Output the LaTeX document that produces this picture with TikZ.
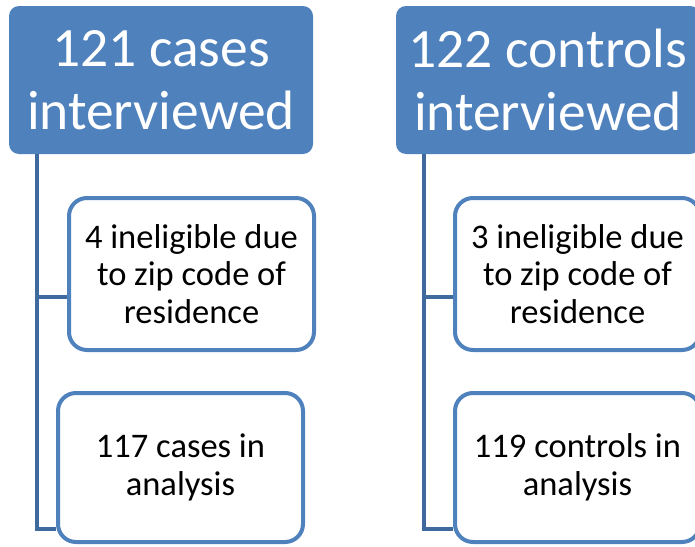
\documentclass[tikz,border=0pt]{standalone}
\usepackage{fontspec}
\setmainfont{Carlito}
\definecolor{headblue}{HTML}{4F81BD}
\definecolor{spineblue}{HTML}{3E6A9E}
\begin{document}
\begin{tikzpicture}[x=1pt,y=-1pt,
  head/.style={fill=headblue, rounded corners=10pt, minimum width=304pt, minimum height=148pt,
    inner sep=0pt, align=center, text=white, font=\fontsize{55.5}{63}\selectfont},
  item/.style={draw=headblue, line width=4pt, fill=white, rounded corners=18pt,
    minimum width=245pt, inner sep=0pt, align=center, font=\fontsize{34.5}{37.5}\selectfont},
  link/.style={draw=spineblue, line width=4.5pt}]
\useasboundingbox (0,0) rectangle (695,546);

% Cases column
\node[head] (casehead) at (161,80) {121 cases\\interviewed};
\node[item, minimum height=152pt] (caseinel) at (191.5,274) {4 ineligible due\\to zip code of\\residence};
\node[item, minimum height=149pt] (caseout) at (180.5,467.5) {117 cases in\\analysis};
\draw[link] ([xshift=28pt]casehead.south west) |- ([yshift=-61.5pt]caseout.west);
\draw[link] ([xshift=28pt]casehead.south west) |- ([yshift=-23pt]caseinel.west);

% Controls column
\node[head] (ctrlhead) at (548,80) {122 controls\\interviewed};
\node[item, minimum height=152pt] (ctrlinel) at (577.5,274) {3 ineligible due\\to zip code of\\residence};
\node[item, minimum height=149pt] (ctrlout) at (577.5,467.5) {119 controls in\\analysis};
\draw[link] ([xshift=28pt]ctrlhead.south west) |- ([yshift=-61.5pt]ctrlout.west);
\draw[link] ([xshift=28pt]ctrlhead.south west) |- ([yshift=-23pt]ctrlinel.west);

\end{tikzpicture}
\end{document}
